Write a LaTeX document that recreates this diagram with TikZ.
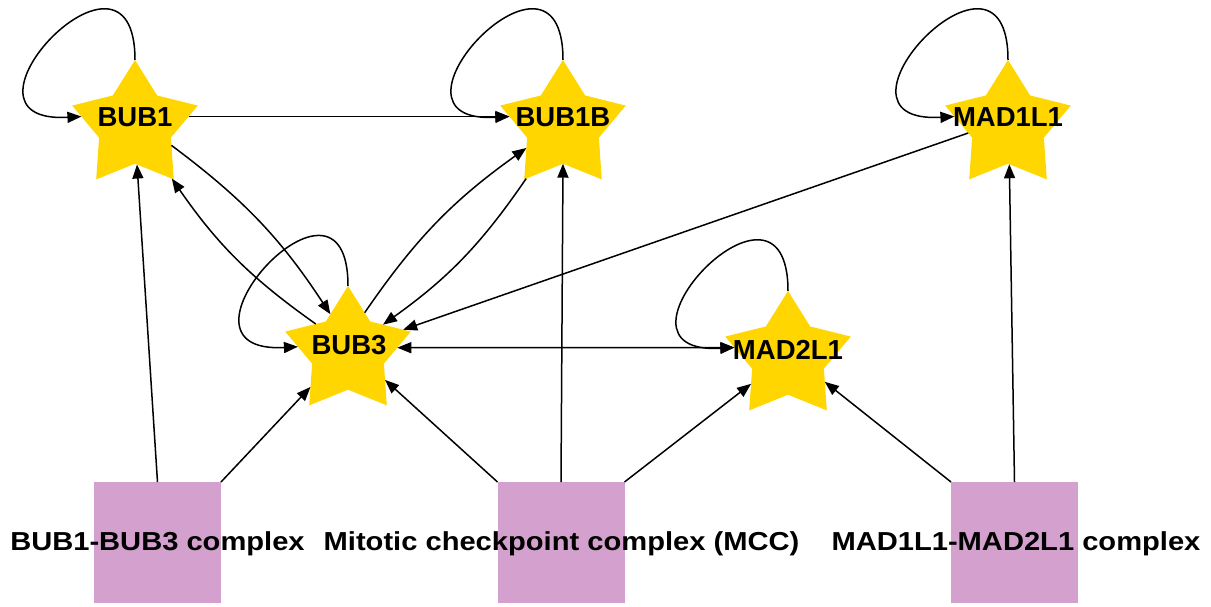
\documentclass[tikz,border=0pt]{standalone}
\usepackage{fontspec}
\setmainfont{Liberation Sans}
\usetikzlibrary{shapes.geometric,arrows.meta}
\definecolor{stargold}{RGB}{255,214,0}
\definecolor{boxpink}{RGB}{212,160,205}
\begin{document}
\begin{tikzpicture}[x=1pt,y=-1pt,
  gene/.style={star,star points=5,star point ratio=1.75,minimum size=132pt,inner sep=0pt,outer sep=0pt,fill=stargold,draw=none},
  glabel/.style={font=\fontsize{27.5}{30}\selectfont\bfseries,inner sep=0pt},
  cplx/.style={rectangle,fill=boxpink,minimum width=127pt,minimum height=121pt,inner sep=0pt,outer sep=0pt},
  clabel/.style={font=\fontsize{26}{30}\selectfont\bfseries,inner sep=0pt,anchor=base},
  edge/.style={line width=1.5pt,-{Triangle[length=14pt,width=11pt]}},
  dedge/.style={line width=1.5pt,{Triangle[length=14pt,width=11pt]}-{Triangle[length=14pt,width=11pt]}},
  selfloop/.style={line width=1.5pt,-{Triangle[length=14pt,width=11pt]}}
]
\useasboundingbox (0,0) rectangle (1211,607);

% complexes
\node[cplx] (box1) at (157.5,542.5) {};
\node[cplx] (box2) at (561,542.5) {};
\node[cplx] (box3) at (1014.5,542.5) {};
\node[clabel] (t1) at (157.5,550) {\scalebox{1.12}[1]{BUB1-BUB3 complex}};
\node[clabel] (t2) at (561.5,550) {\scalebox{1.12}[1]{Mitotic checkpoint complex (MCC)}};
\node[clabel] (t3) at (1016,550) {\scalebox{1.12}[1]{MAD1L1-MAD2L1 complex}};

% genes
\node[gene] (BUB1) at (135,126) {};
\node[gene] (BUB1B) at (563,126) {};
\node[gene] (MAD1L1) at (1008,126) {};
\node[gene] (BUB3) at (348,352) {};
\node[gene] (MAD2L1) at (788,357) {};
\node[glabel] (lBUB1) at (135,117) {BUB1};
\node[glabel] (lBUB1B) at (563,117) {BUB1B};
\node[glabel] (lMAD1L1) at (1008,117) {MAD1L1};
\node[glabel] (lBUB3) at (349,345) {BUB3};
\node[glabel] (lMAD2L1) at (788,350) {MAD2L1};

% self loops
\draw[selfloop] (BUB1.90) .. controls +(0,-145) and +(-145,8) .. (BUB1.170);
\draw[selfloop] (BUB1B.90) .. controls +(0,-145) and +(-145,8) .. (BUB1B.170);
\draw[selfloop] (MAD1L1.90) .. controls +(0,-145) and +(-145,8) .. (MAD1L1.170);
\draw[selfloop] (BUB3.90) .. controls +(0,-145) and +(-145,8) .. (BUB3.174);
\draw[selfloop] (MAD2L1.90) .. controls +(0,-145) and +(-145,8) .. (MAD2L1.170);

% gene interactions
\draw[edge] (BUB1.10) -- (BUB1B.170);
\draw[edge] (BUB1.332) to[bend left=10] (BUB3.115);
\draw[edge] (BUB3.139) to[bend left=10] (BUB1.305);
\draw[edge] (BUB3.67) to[bend left=10] (BUB1B.211);
\draw[edge] (BUB1B.235) to[bend left=10] (BUB3.38);
\draw[edge] (MAD1L1.190) -- (BUB3.22);
\draw[dedge] (BUB3.5) -- (MAD2L1.170);

% complex memberships
\draw[edge] (box1.north) -- (BUB1.273);
\draw[edge] (box1.north east) -- (BUB3.223);
\draw[edge] (box2.north west) -- (BUB3.323);
\draw[edge] (box2.north) -- (BUB1B.270);
\draw[edge] (box2.north east) -- (MAD2L1.216);
\draw[edge] (box3.north west) -- (MAD2L1.326);
\draw[edge] (box3.north) -- (MAD1L1.272);
\end{tikzpicture}
\end{document}
